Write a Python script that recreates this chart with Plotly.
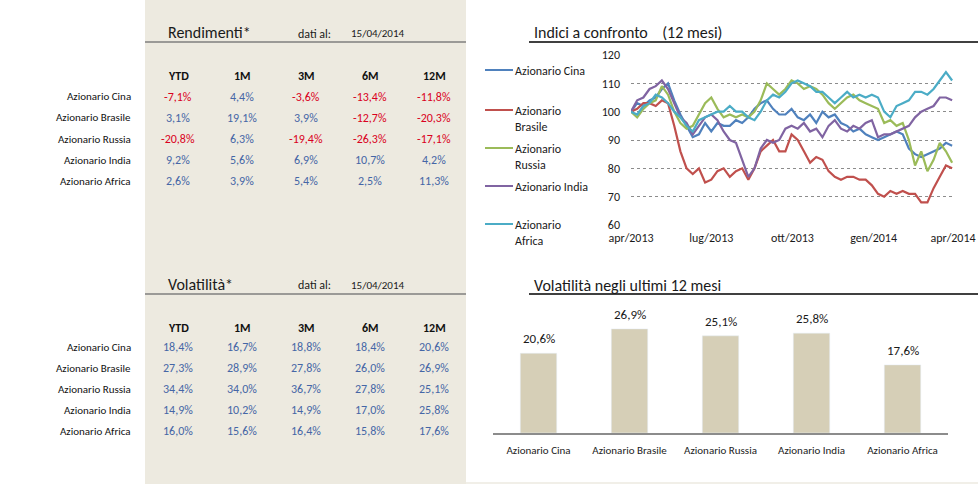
import plotly.graph_objects as go
import pandas as pd

# ---------------- data ----------------
periods = ["YTD", "1M", "3M", "6M", "12M"]
funds = ["Azionario Cina", "Azionario Brasile", "Azionario Russia", "Azionario India", "Azionario Africa"]
legend_labels = ["Azionario Cina", "Azionario<br>Brasile", "Azionario<br>Russia", "Azionario India", "Azionario<br>Africa"]
data_date = "15/04/2014"

rendimenti = [
    [-7.1, 4.4, -3.6, -13.4, -11.8],
    [3.1, 19.1, 3.9, -12.7, -20.3],
    [-20.8, 6.3, -19.4, -26.3, -17.1],
    [9.2, 5.6, 6.9, 10.7, 4.2],
    [2.6, 3.9, 5.4, 2.5, 11.3],
]
volatilita = [
    [18.4, 16.7, 18.8, 18.4, 20.6],
    [27.3, 28.9, 27.8, 26.0, 26.9],
    [34.4, 34.0, 36.7, 27.8, 25.1],
    [14.9, 10.2, 14.9, 17.0, 25.8],
    [16.0, 15.6, 16.4, 15.8, 17.6],
]
vol_12m = [20.6, 26.9, 25.1, 25.8, 17.6]

dates = pd.date_range("2013-04-15", periods=53, freq="7D")
cina = [100, 103, 102, 104, 105, 108, 110, 104, 99, 95, 91, 92, 96, 93, 96, 95, 95,
        97, 96, 98, 101, 103, 104, 101, 99, 99, 101, 98, 97, 99, 96, 100, 98, 99, 96,
        95, 93, 94, 92, 91, 90, 91, 92, 93, 92, 87, 85, 84, 85, 86, 87, 89, 88]
brasile = [100, 101, 103, 103, 102, 104, 103, 95, 86, 80, 78, 80, 75, 76, 79, 80, 77,
           79, 80, 76, 80, 86, 88, 90, 86, 86, 92, 90, 86, 82, 84, 83, 79, 77, 76, 77,
           77, 76, 76, 74, 71, 70, 72, 71, 72, 71, 71, 68, 68, 73, 77, 81, 80]
russia = [100, 98, 101, 103, 104, 109, 106, 100, 96, 94, 95, 99, 103, 105, 101, 98, 99,
          98, 99, 98, 100, 104, 110, 108, 106, 108, 111, 110, 108, 109, 108, 106, 103,
          101, 103, 105, 106, 104, 103, 102, 101, 96, 97, 95, 96, 90, 81, 86, 79, 83,
          89, 86, 82]
india = [100, 104, 105, 108, 109, 111, 108, 103, 98, 96, 92, 95, 98, 99, 97, 93, 90, 89,
         83, 77, 80, 87, 90, 89, 90, 94, 95, 94, 96, 93, 94, 91, 95, 97, 94, 93, 95, 94,
         96, 97, 91, 92, 92, 93, 94, 95, 98, 100, 101, 102, 105, 105, 104]
africa = [100, 99, 102, 103, 106, 105, 103, 100, 98, 95, 93, 97, 98, 99, 100, 100, 102,
          100, 100, 98, 97, 100, 104, 106, 105, 107, 110, 111, 110, 109, 107, 107, 105,
          103, 105, 107, 105, 106, 105, 106, 105, 100, 98, 102, 103, 104, 107, 107, 106,
          108, 111, 114, 111]
series = [cina, brasile, russia, india, africa]
colors = ["#4F81BD", "#C0504D", "#9BBB59", "#8064A2", "#4BACC6"]

x_ticks = ["2013-04-15", "2013-07-15", "2013-10-15", "2014-01-15", "2014-04-15"]
x_ticktext = ["apr/2013", "lug/2013", "ott/2013", "gen/2014", "apr/2014"]
y_ticks = [60, 70, 80, 90, 100, 110, 120]

# ---------------- layout helpers ----------------
W, H = 978, 484
FONT = "Calibri, Carlito, Lato, sans-serif"


def px(x):
    return x / W


def py(y):
    return 1 - y / H


def fmt(v):
    return f"{v:.1f}%".replace(".", ",")


fig = go.Figure()

for name, vals, col in zip(funds, series, colors):
    fig.add_trace(go.Scatter(x=dates, y=vals, name=name, mode="lines",
                             line=dict(color=col, width=2.2), xaxis="x", yaxis="y",
                             showlegend=False, hoverinfo="skip"))

fig.add_trace(go.Bar(x=funds, y=vol_12m, marker_color="#D6CFB7", width=0.4,
                     xaxis="x2", yaxis="y2", showlegend=False))

shapes = []
annotations = []

# beige panel
shapes.append(dict(type="rect", xref="paper", yref="paper", x0=px(145), x1=px(466),
                   y0=0, y1=1, fillcolor="#EDEAE0", line=dict(width=0), layer="below"))
shapes.append(dict(type="rect", xref="paper", yref="paper", x0=px(466), x1=1,
                   y0=0, y1=py(482), fillcolor="#F1EFE8", line=dict(width=0), layer="below"))


def table(title, title_y, line_y, header_y, row_y0, values, signed):
    annotations.append(dict(x=px(166), y=py(title_y), xref="paper", yref="paper",
                            text=title, showarrow=False, xanchor="left", yanchor="middle",
                            font=dict(family=FONT, size=16, color="#1a1a1a")))
    annotations.append(dict(x=px(296), y=py(title_y + 1), xref="paper", yref="paper",
                            text="dati al:", showarrow=False, xanchor="left", yanchor="middle",
                            font=dict(family=FONT, size=12, color="#1a1a1a")))
    annotations.append(dict(x=px(349), y=py(title_y + 1), xref="paper", yref="paper",
                            text=data_date, showarrow=False, xanchor="left", yanchor="middle",
                            font=dict(family=FONT, size=11, color="#1a1a1a")))
    shapes.append(dict(type="line", xref="paper", yref="paper", x0=px(145), x1=px(466),
                       y0=py(line_y), y1=py(line_y), line=dict(color="#7f7f7f", width=1.5)))
    col_x = [178, 242, 306, 370, 434]
    for j, p in enumerate(periods):
        annotations.append(dict(x=px(col_x[j]), y=py(header_y), xref="paper", yref="paper",
                                text=f"<b>{p}</b>", showarrow=False, xanchor="center",
                                yanchor="middle", font=dict(family=FONT, size=12, color="#111")))
    for i, f in enumerate(funds):
        yy = row_y0 + 21 * i
        annotations.append(dict(x=px(133), y=py(yy), xref="paper", yref="paper",
                                text=f, showarrow=False, xanchor="right", yanchor="middle",
                                font=dict(family=FONT, size=11, color="#111")))
        for j, v in enumerate(values[i]):
            c = "#DA0020" if (signed and v < 0) else "#4566A6"
            annotations.append(dict(x=px(col_x[j]), y=py(yy), xref="paper", yref="paper",
                                    text=fmt(v), showarrow=False, xanchor="center",
                                    yanchor="middle", font=dict(family=FONT, size=12, color=c)))


table("Rendimenti*", 33, 42, 76, 97, rendimenti, True)
table("Volatilità*", 284, 294, 328, 347, volatilita, False)

# chart titles
annotations.append(dict(x=px(532), y=py(33), xref="paper", yref="paper",
                        text="Indici a confronto    (12 mesi)", showarrow=False,
                        xanchor="left", yanchor="middle",
                        font=dict(family=FONT, size=16, color="#1a1a1a")))
shapes.append(dict(type="line", xref="paper", yref="paper", x0=px(529), x1=1,
                   y0=py(42), y1=py(42), line=dict(color="#000", width=1.5)))
annotations.append(dict(x=px(532), y=py(285), xref="paper", yref="paper",
                        text="Volatilità negli ultimi 12 mesi", showarrow=False,
                        xanchor="left", yanchor="middle",
                        font=dict(family=FONT, size=16, color="#1a1a1a")))
shapes.append(dict(type="line", xref="paper", yref="paper", x0=px(529), x1=1,
                   y0=py(294), y1=py(294), line=dict(color="#000", width=1.5)))

# manual legend
leg_y = [70, 110, 148, 186, 224]
for lab, col, ly in zip(legend_labels, colors, leg_y):
    shapes.append(dict(type="line", xref="paper", yref="paper", x0=px(485), x1=px(513),
                       y0=py(ly), y1=py(ly), line=dict(color=col, width=2)))
    annotations.append(dict(x=px(513), y=py(ly - 8), xref="paper", yref="paper",
                            text=lab, showarrow=False, xanchor="left", yanchor="top",
                            align="left",
                            font=dict(family=FONT, size=12, color="#1a1a1a")))

# bar labels
for f, v in zip(funds, vol_12m):
    annotations.append(dict(x=f, y=v, xref="x2", yref="y2", text=fmt(v), showarrow=False,
                            xanchor="center", yanchor="bottom", yshift=5,
                            font=dict(family=FONT, size=13, color="#1a1a1a")))

fig.update_layout(
    width=W, height=H, margin=dict(l=0, r=0, t=0, b=0, autoexpand=False),
    paper_bgcolor="white", plot_bgcolor="rgba(0,0,0,0)",
    font=dict(family=FONT),
    shapes=shapes, annotations=annotations,
    xaxis=dict(domain=[px(631), px(953)], type="date",
               range=["2013-04-15", "2014-04-15"], tickvals=x_ticks, ticktext=x_ticktext,
               showgrid=False, zeroline=False, showline=False, ticks="",
               tickfont=dict(family=FONT, size=12, color="#1a1a1a"),
               ticklabelstandoff=4, anchor="y"),
    yaxis=dict(domain=[py(225), py(55)], range=[60, 120], tickvals=y_ticks,
               showgrid=True, gridcolor="#8c8c8c", griddash="dot", gridwidth=1,
               zeroline=False, showline=False, ticks="", anchor="x",
               tickfont=dict(family=FONT, size=12, color="#1a1a1a"),
               ticklabelstandoff=10),
    xaxis2=dict(domain=[px(493), px(948)], anchor="y2", showline=True,
                linecolor="#8c8c8c", linewidth=1.5, ticks="", showgrid=False,
                tickfont=dict(family=FONT, size=11, color="#1a1a1a"),
                ticklabelstandoff=6),
    yaxis2=dict(domain=[py(433), py(305)], range=[0, 33.07], visible=False,
                anchor="x2"),
    bargap=0.6,
)

fig.write_html("out.html", config={"displayModeBar": False},
               post_script="document.body.style.margin='0';document.body.style.overflow='hidden';")
